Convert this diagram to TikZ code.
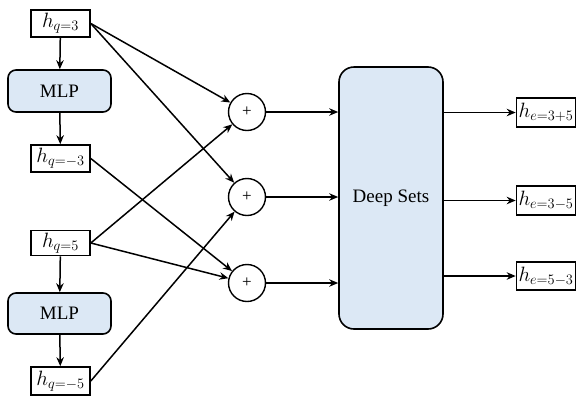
\documentclass[tikz,border=0pt]{standalone}
\usepackage{fontspec}
\setmainfont{Liberation Serif}
\usetikzlibrary{arrows.meta}
\definecolor{boxblue}{RGB}{220,232,245}
\begin{document}
\begin{tikzpicture}[x=1pt,y=-1pt,
  hbox/.style={draw,line width=1.6pt,minimum width=59pt,minimum height=27pt,inner sep=0pt,font=\fontsize{21}{22}\selectfont},
  mlpbox/.style={draw,line width=1.6pt,fill=boxblue,rounded corners=8pt,minimum width=103pt,minimum height=42pt,inner sep=0pt,font=\fontsize{19}{20}\selectfont},
  sumnode/.style={draw,circle,line width=1.4pt,minimum size=37pt,inner sep=0pt,font=\fontsize{17}{17}\selectfont},
  conn/.style={line width=1.5pt,-{Stealth[length=9pt,width=7.5pt]}}]
\useasboundingbox (0,0) rectangle (576,397);
\node[hbox] (hq3) at (60.5,23.5) {$h_{q=3}$};
\node[mlpbox] (mlp1) at (59.5,91) {MLP};
\node[hbox] (hqm3) at (60.5,158.5) {$h_{q=-3}$};
\node[hbox,minimum height=25pt] (hq5) at (60.5,243) {$h_{q=5}$};
\node[mlpbox,minimum height=41pt] (mlp2) at (59.5,313.5) {MLP};
\node[hbox,minimum height=28pt] (hqm5) at (60.5,381) {$h_{q=-5}$};
\node[sumnode] (c1) at (247,112) {+};
\node[sumnode] (c2) at (247,197) {+};
\node[sumnode] (c3) at (247,283) {+};
\node[draw,line width=1.6pt,fill=boxblue,rounded corners=15pt,minimum width=104pt,minimum height=262pt,inner sep=0pt,font=\fontsize{19}{20}\selectfont] (ds) at (391,198) {Deep Sets};
\node[hbox,minimum height=29pt] (o1) at (546,112.5) {$h_{e=3+5}$};
\node[hbox,minimum height=29pt] (o2) at (546,200.5) {$h_{e=3-5}$};
\node[hbox,minimum height=28pt] (o3) at (546,276) {$h_{e=5-3}$};
\draw[conn] (hq3) -- (mlp1);
\draw[conn] (mlp1) -- (hqm3);
\draw[conn] (hq5) -- (mlp2);
\draw[conn] (mlp2) -- (hqm5);
\draw[conn] (hq3.east) -- (c1);
\draw[conn] (hq3.east) -- (c2);
\draw[conn] (hqm3.east) -- (c3);
\draw[conn] (hq5.east) -- (c1);
\draw[conn] (hq5.east) -- (c3);
\draw[conn] (hqm5.east) -- (c2);
\draw[conn] (c1) -- (c1 -| ds.west);
\draw[conn] (c2) -- (c2 -| ds.west);
\draw[conn] (c3) -- (c3 -| ds.west);
\draw[conn] (ds.east |- o1) -- (o1);
\draw[conn] (ds.east |- o2) -- (o2);
\draw[conn] (ds.east |- o3) -- (o3);
\end{tikzpicture}
\end{document}
